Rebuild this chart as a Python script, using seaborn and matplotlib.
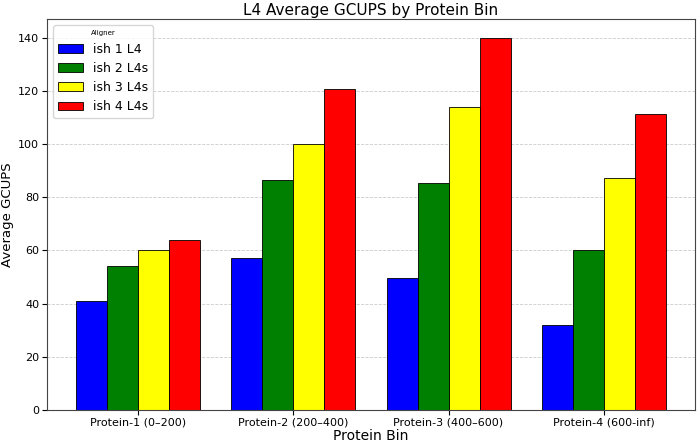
import pandas as pd
import numpy as np
import matplotlib.pyplot as plt
import seaborn as sns

bins = ["Protein-1 (0–200)", "Protein-2 (200–400)", "Protein-3 (400–600)", "Protein-4 (600-inf)"]
aligners = ["ish 1 L4", "ish 2 L4s", "ish 3 L4s", "ish 4 L4s"]
ish1 = [40.8, 57.3, 49.7, 31.9]
ish2 = [54.0, 86.4, 85.5, 60.0]
ish3 = [60.3, 99.9, 113.9, 87.2]
ish4 = [64.1, 120.6, 140.0, 111.2]
colors = ["blue", "green", "yellow", "red"]

df = pd.DataFrame({
    "Protein Bin": bins * 4,
    "Aligner": np.repeat(aligners, len(bins)),
    "GCUPS": ish1 + ish2 + ish3 + ish4,
})

fig, ax = plt.subplots(figsize=(7, 4.43), dpi=100)
sns.barplot(data=df, x="Protein Bin", y="GCUPS", hue="Aligner", palette=colors,
            edgecolor="black", linewidth=0.6, saturation=1, errorbar=None, ax=ax)
ax.set_axisbelow(True)
ax.yaxis.grid(True, linestyle="--", linewidth=0.6, color="#cccccc")
ax.set_title("L4 Average GCUPS by Protein Bin", fontsize=11, pad=3)
ax.set_xlabel("Protein Bin", fontsize=10, labelpad=1)
ax.set_ylabel("Average GCUPS", fontsize=9.5, labelpad=3)
ax.tick_params(axis="x", labelsize=8, pad=2)
ax.tick_params(axis="y", labelsize=8, pad=2)
ax.set_ylim(0, 147)
ax.set_xlim(-0.59, 3.59)
for s in ax.spines.values():
    s.set_color("#444444")
leg = ax.legend(title="Aligner", fontsize=9, title_fontsize=5, loc="upper left")
plt.subplots_adjust(left=0.067, right=0.993, top=0.957, bottom=0.0745)
plt.savefig("out.png")
